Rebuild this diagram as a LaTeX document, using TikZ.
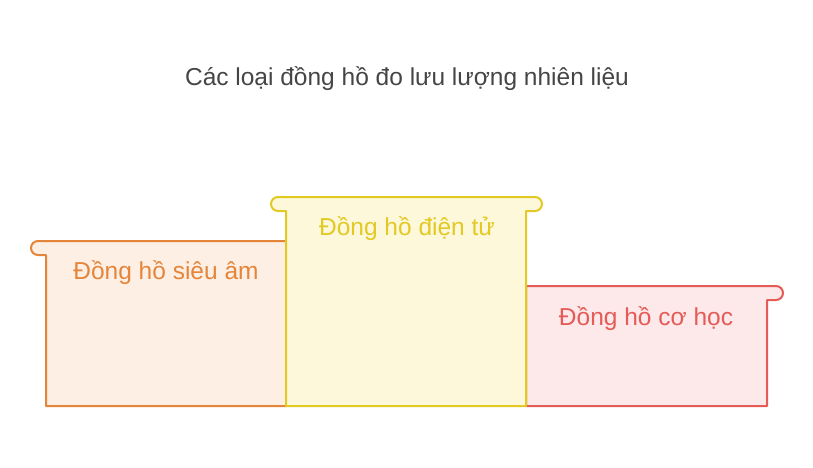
\documentclass[tikz,border=0pt]{standalone}
\usepackage{fontspec}
\setmainfont{Liberation Sans}
\definecolor{ocam}{HTML}{E5853A}
\definecolor{ocamnen}{HTML}{FDEFE4}
\definecolor{vang}{HTML}{E2C923}
\definecolor{vangnen}{HTML}{FEF8DB}
\definecolor{do}{HTML}{E45B57}
\definecolor{donen}{HTML}{FDE9E9}
\definecolor{chu}{HTML}{454545}
\begin{document}
\begin{tikzpicture}[x=1pt,y=1pt,line width=2pt,line join=round,
    nhan/.style={font=\fontsize{24.5}{29}\selectfont}]
            \useasboundingbox (0,0) rectangle (813,-468);
            \node[text=chu,font=\fontsize{24.5}{29}\selectfont] (tieude) at (407,-79) {Các loại đồng hồ đo lưu lượng nhiên liệu};
            \draw[ocam,fill=ocamnen] (286,-406) -- (46,-406) -- (46,-255) -- (38,-255) arc (270:90:7) -- (286,-241) -- cycle;
            \draw[do,fill=donen] (526,-406) -- (767,-406) -- (767,-300) -- (776,-300) arc (-90:90:7) -- (526,-286) -- cycle;
            \draw[vang,fill=vangnen] (286,-406) -- (286,-211) -- (278,-211) arc (270:90:7) -- (535,-197) arc (90:-90:7) -- (526,-211) -- (526,-406) -- cycle;
            \node[nhan,text=ocam] (sieuam) at (166,-273) {Đồng hồ siêu âm};
            \node[nhan,text=vang] (dientu) at (407,-229) {Đồng hồ điện tử};
            \node[nhan,text=do] (cohoc) at (646,-319) {Đồng hồ cơ học};
        \end{tikzpicture}
\end{document}
